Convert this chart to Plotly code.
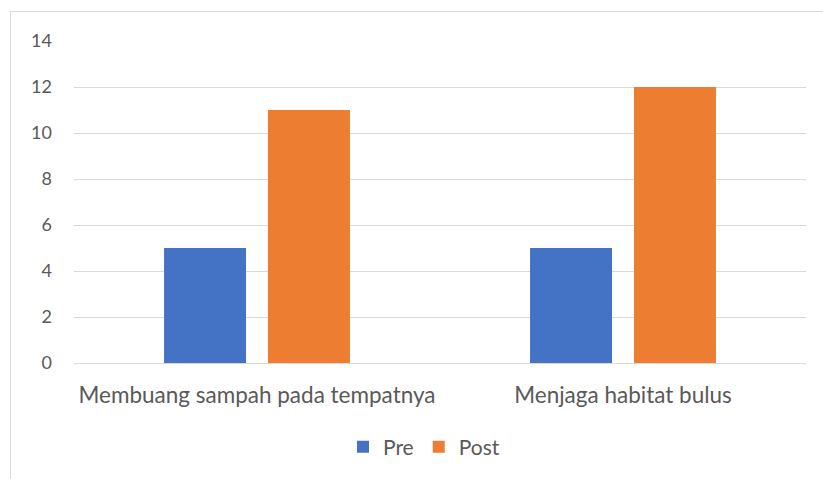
import plotly.graph_objects as go

categories = ["Membuang sampah pada tempatnya", "Menjaga habitat bulus"]
pre_values = [5, 5]
post_values = [11, 12]
y_ticks = [0, 2, 4, 6, 8, 10, 12, 14]

FONT = "Lato"
TXT = "#595959"

fig = go.Figure()
fig.add_trace(go.Bar(name="Pre", x=categories, y=pre_values, marker=dict(color="#4472C4", line=dict(width=0))))
fig.add_trace(go.Bar(name="Post", x=categories, y=post_values, marker=dict(color="#ED7D31", line=dict(width=0))))

L, R, T, B = 74, 17, 41, 116
W, H = 823, 479
pw = W - L - R
ph = H - T - B

fig.update_layout(
    width=W, height=H,
    margin=dict(l=L, r=R, t=T, b=B, pad=0),
    paper_bgcolor="white", plot_bgcolor="white",
    barmode="group", bargap=0.432, bargroupgap=0.2115,
    font=dict(family=FONT, size=18, color=TXT),
    showlegend=True,
    legend=dict(orientation="h", x=(424 - L) / pw, xanchor="center",
                y=(363 - 447) / ph, yanchor="middle",
                font=dict(family=FONT, size=21, color=TXT),
                itemwidth=30, traceorder="normal"),
    xaxis=dict(showgrid=False, showline=False, ticks="", tickfont=dict(family=FONT, size=22.5, color=TXT),
               ticklabelstandoff=16, fixedrange=True),
    yaxis=dict(range=[0, 14], tickvals=y_ticks, showgrid=True, gridcolor="#D9D9D9", gridwidth=1,
               zeroline=True, zerolinecolor="#D9D9D9", zerolinewidth=1, showline=False, ticks="",
               tickfont=dict(family=FONT, size=18, color=TXT), ticklabelstandoff=21, fixedrange=True),
    shapes=[dict(type="rect", xref="paper", yref="paper",
                 x0=(10.5 - L) / pw, x1=(W + 20 - L) / pw,
                 y0=-1.0, y1=1 + (T - 11.5) / ph,
                 line=dict(color="#D9D9D9", width=1), layer="below")],
)

fig.write_html("out.html", config={"displayModeBar": False},
               post_script="document.body.style.margin='0';document.body.style.overflow='hidden';")
